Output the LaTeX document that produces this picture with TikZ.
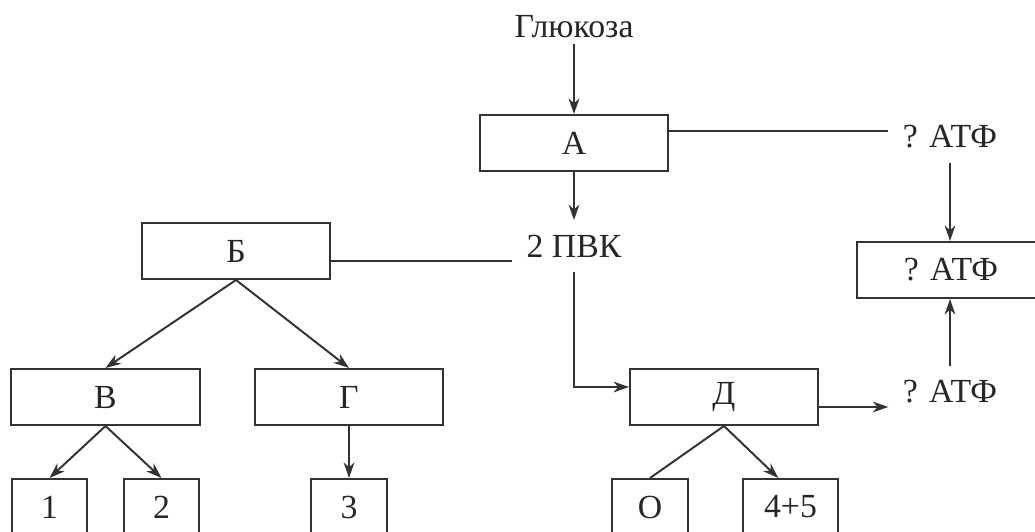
\documentclass[tikz,border=0pt]{standalone}
\usepackage{fontspec}
\setmainfont{Liberation Serif}
\usepackage{tikz}
\tikzset{
    box/.style={draw=black!80, line width=0.7pt,
               minimum width=23.5mm, minimum height=7mm,
               align=center, inner sep=2pt, text=black!85},
  smallbox/.style={box, minimum width=9.4mm},
  txt/.style={inner sep=5pt, text=black!85},
  arrow/.style={-{Stealth[length=5.5pt, width=3.8pt, inset=1.7pt]}, line width=0.7pt, draw=black!80},
  link/.style={line width=0.7pt, draw=black!80}
}
\usetikzlibrary{
  positioning, arrows.meta, calc
}

\begin{document}
\begin{tikzpicture}[x=0.0125cm, y=-0.0125cm, font=\fontsize{12}{14}\selectfont]
    \clip (0,0) rectangle (1035,532);
    \node[txt, inner sep=2pt] (gluc) at (574,27) {Глюкоза};
    \node[box] (A) at (574,143) {А};
    \node[txt] (atpA) at (950,137) {? АТФ};
    \node[box] (atpbox) at (951,270) {? АТФ};
    \node[txt] (pvk) at (574,246) {2 ПВК};
    \node[box] (B) at (236,251) {Б};
    \node[box] (V) at (105.5,397) {В};
    \node[box] (G) at (349,397) {Г};
    \node[box] (D) at (724,397) {Д};
    \node[txt] (atpD) at (950,392) {? АТФ};
    \node[smallbox] (b1) at (49.5,507) {1};
    \node[smallbox] (b2) at (161.5,507) {2};
    \node[smallbox] (b3) at (349,507) {3};
    \node[smallbox] (bO) at (650,507) {О};
    \node[smallbox, minimum width=11.9mm] (b45) at (790.5,507) {4+5};

    \draw[arrow] (gluc) -- (A);
    \draw[arrow] (A) -- (pvk);
    \draw[link] (A.7) -- (A.7 -| atpA.west);
    \draw[arrow] (atpA) -- (atpA |- atpbox.north);
    \draw[link] (B.-6) -- (B.-6 -| pvk.west);
    \draw[arrow] (pvk) |- (D.174);
    \draw[arrow] (D.-6) -- (D.-6 -| atpD.west);
    \draw[arrow] (atpD) -- (atpD |- atpbox.south);
    \draw[arrow] (B.south) -- (V.north);
    \draw[arrow] (B.south) -- (G.north);
    \draw[arrow] (V.south) -- (b1.north);
    \draw[arrow] (V.south) -- (b2.north);
    \draw[arrow] (G) -- (b3);
    \draw[link] (D.south) -- (bO.north);
    \draw[arrow] (D.south) -- (b45.113);
\end{tikzpicture}
\end{document}
